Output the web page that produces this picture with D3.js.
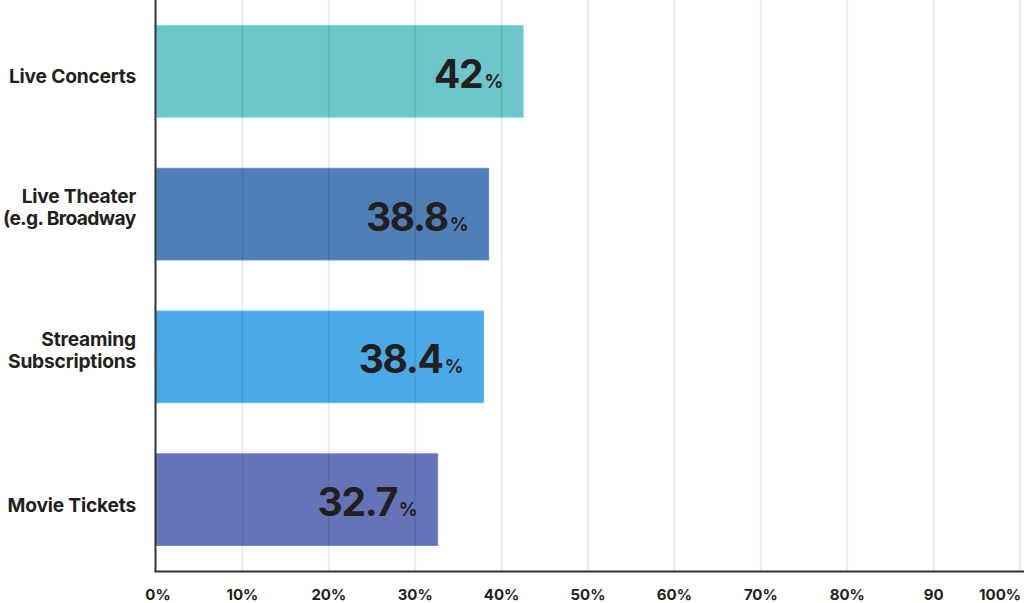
<!DOCTYPE html>
<html>
<head>
<meta charset="utf-8">
<script src="https://cdn.jsdelivr.net/npm/d3@7/dist/d3.min.js"></script>
<style>
  html, body { margin: 0; padding: 0; background: #fff; }
  svg { display: block; }
  text { font-family: Inter, "Noto Sans", sans-serif; font-weight: 700; fill: #231f20; }
</style>
</head>
<body>
<svg id="chart" width="1024" height="603"></svg>
<script>
// ---- data ----
const categories = ["Live Concerts", "Live Theater\n(e.g. Broadway", "Streaming\nSubscriptions", "Movie Tickets"];
const barValues = [42.5, 38.5, 37.9, 32.6];          // drawn bar lengths (%)
const valueLabels = ["42", "38.8", "38.4", "32.7"];  // printed labels
const colors = ["#6cc6ca", "#4e7fb6", "#4ca9e8", "#6574b8"];
const tickValues = [0, 10, 20, 30, 40, 50, 60, 70, 80, 90, 100];
const tickLabels = ["0%", "10%", "20%", "30%", "40%", "50%", "60%", "70%", "80%", "90", "100%"];

const svg = d3.select("#chart");
const W = 1024, H = 603;
const x0 = 156, x1 = 1020, yBottom = 571;

const x = d3.scaleLinear().domain([0, 100]).range([x0, x1]);
const y = d3.scaleBand().domain(categories).range([0, yBottom]).paddingInner(0.358).paddingOuter(0.179);

// bars
svg.append("g").selectAll("rect").data(categories).join("rect")
  .attr("x", x(0))
  .attr("y", d => y(d))
  .attr("width", (d, i) => x(barValues[i]) - x(0))
  .attr("height", y.bandwidth())
  .attr("fill", (d, i) => colors[i])
  .attr("stroke", (d, i) => d3.color(colors[i]).brighter(0.3))
  .attr("stroke-width", 1);

// grid lines (on top, translucent)
svg.append("g").selectAll("line").data(tickValues.slice(1)).join("line")
  .attr("x1", d => x(d)).attr("x2", d => x(d))
  .attr("y1", 0).attr("y2", yBottom)
  .attr("stroke", "rgba(0,0,0,0.08)")
  .attr("stroke-width", 2);

// axes lines
svg.append("line").attr("x1", x0 - 0.5).attr("x2", x0 - 0.5).attr("y1", 0).attr("y2", yBottom + 1)
  .attr("stroke", "#333").attr("stroke-width", 2);
svg.append("line").attr("x1", x0 - 1.5).attr("x2", W).attr("y1", yBottom + 0.5).attr("y2", yBottom + 0.5)
  .attr("stroke", "#333").attr("stroke-width", 2);

// x tick labels
svg.append("g").selectAll("text").data(tickValues).join("text")
  .attr("x", (d, i) => i === tickValues.length - 1 ? W - 3 : x(d) + (i === 0 ? 2 : 0))
  .attr("y", 600)
  .attr("text-anchor", (d, i) => i === tickValues.length - 1 ? "end" : "middle")
  .attr("font-size", 15)
  .text((d, i) => tickLabels[i]);

// category labels
const catG = svg.append("g");
const labelRight = 136, maxLabelW = 133;
categories.forEach(c => {
  const lines = c.split("\n");
  const cy = y(c) + y.bandwidth() / 2;
  const t = catG.append("text")
    .attr("text-anchor", "end")
    .attr("font-size", 19.2)
    .attr("letter-spacing", "-0.2");
  lines.forEach((ln, j) => {
    const yy = lines.length === 1 ? cy + 12 : cy + (j === 0 ? -11 : 11);
    const ts = t.append("tspan")
      .attr("x", labelRight)
      .attr("y", yy)
      .text(ln);
    const w = ts.node().getComputedTextLength();
    if (w > maxLabelW) ts.attr("textLength", maxLabelW).attr("lengthAdjust", "spacing");
  });
});

// value labels
svg.append("g").selectAll("text").data(categories).join("text")
  .attr("x", (d, i) => x(barValues[i]) - 20)
  .attr("y", d => y(d) + y.bandwidth() / 2 + 16.5)
  .attr("text-anchor", "end")
  .attr("font-size", 39)
  .attr("letter-spacing", "-1.3")
  .each(function(d, i) {
    const t = d3.select(this);
    t.append("tspan").text(valueLabels[i]);
    t.append("tspan").attr("font-size", 18.5).attr("dx", 2).attr("letter-spacing", "0").text("%");
  });
</script>
</body>
</html>
